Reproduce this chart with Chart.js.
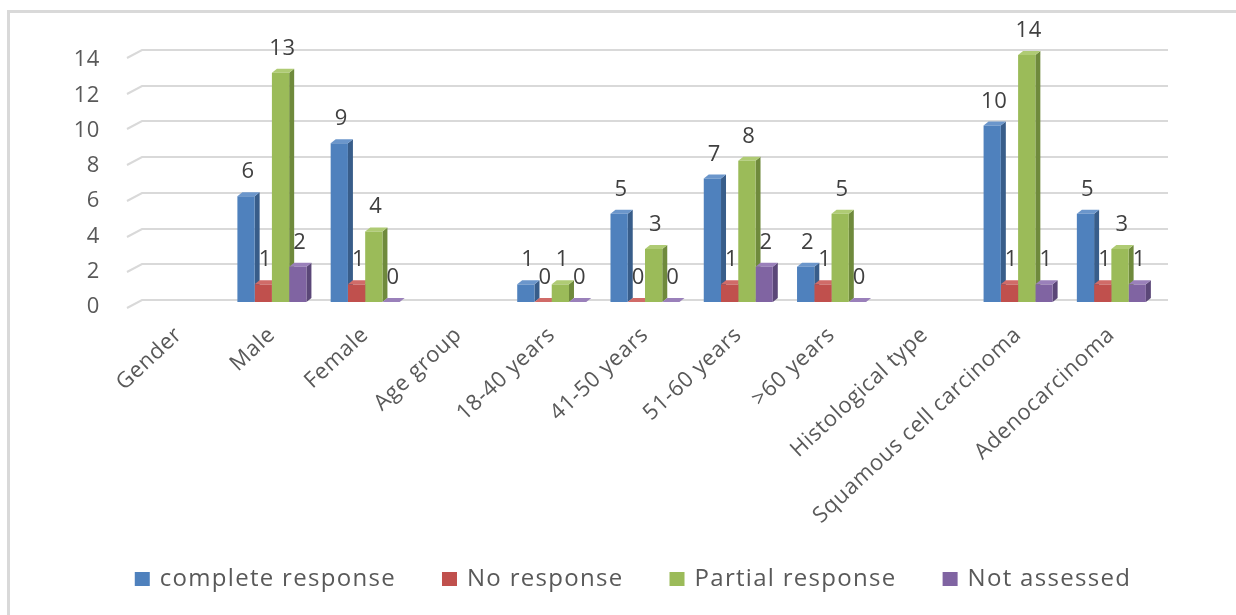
<!DOCTYPE html>
<html>
<head>
<meta charset="utf-8">
<script src="https://cdn.jsdelivr.net/npm/chart.js@4/dist/chart.umd.min.js"></script>
<style>
  html, body { margin: 0; padding: 0; background: #ffffff; }
  #wrap { position: relative; width: 1236px; height: 615px; overflow: hidden; }
  #frame { position: absolute; left: 7px; top: 10px; width: 1300px; height: 700px;
           border-left: 3px solid #d9d9d9; border-top: 3px solid #d9d9d9; box-sizing: border-box; }
  canvas { position: absolute; left: 0; top: 0; }
</style>
</head>
<body>
<div id="wrap">
  <div id="frame"></div>
  <canvas id="chart" width="1236" height="615"></canvas>
</div>
<script>
// Treatment response by patient group
const categories = ['Gender', 'Male', 'Female', 'Age group', '18-40 years', '41-50 years',
  '51-60 years', '>60 years', 'Histological type', 'Squamous cell carcinoma', 'Adenocarcinoma'];
const completeResponse = [null, 6, 9, null, 1, 5, 7, 2, null, 10, 5];
const noResponse       = [null, 1, 1, null, 0, 0, 1, 1, null, 1, 1];
const partialResponse  = [null, 13, 4, null, 1, 3, 8, 5, null, 14, 3];
const notAssessed      = [null, 2, 0, null, 0, 0, 2, 0, null, 1, 1];
const seriesNames = ['complete response', 'No response', 'Partial response', 'Not assessed'];
const yTickValues = [0, 2, 4, 6, 8, 10, 12, 14];

// front / side / top shades for each series
const shades = [
  { front: '#4F81BD', side: '#385D8A', top: '#6B96CB' },
  { front: '#C0504D', side: '#8C3836', top: '#D06B68' },
  { front: '#9BBB59', side: '#6F8A3C', top: '#AFCB74' },
  { front: '#8064A2', side: '#5B4778', top: '#9A80BA' }
];
const DEPTH_X = 5, DEPTH_Y = 4;
const TEXT = '#595959';
const FONT = '"Open Sans", "Noto Sans", sans-serif';

// back wall sits slightly further away: pull its lines toward a vanishing point
const VANISH_Y = 466, BACK_SCALE = 1.012;
const backY = frontY => VANISH_Y + (frontY - VANISH_Y) * BACK_SCALE;

const spacingPlugin = {
  id: 'spacing',
  beforeUpdate(chart) { chart.ctx.letterSpacing = '0.6px'; },
  beforeDraw(chart) { chart.ctx.letterSpacing = '0.6px'; }
};

// back grid with a short perspective stub, plus side and top faces of the bars
const depthPlugin = {
  id: 'depth',
  beforeDatasetsDraw(chart) {
    const ctx = chart.ctx, area = chart.chartArea, ys = chart.scales.y;
    ctx.save();
    ctx.strokeStyle = '#d9d9d9';
    ctx.lineWidth = 2;
    ys.ticks.forEach(t => {
      const y = Math.round(backY(ys.getPixelForValue(t.value)));
      ctx.beginPath();
      ctx.moveTo(area.left - 5, y + 8);
      ctx.lineTo(area.left + 10, y);
      ctx.lineTo(area.right + 10, y);
      ctx.stroke();
    });
    const sets = chart.data.datasets;
    for (let i = 0; i < chart.data.labels.length; i++) {
      for (let d = 0; d < sets.length; d++) {
        if (sets[d].data[i] == null) continue;
        const el = chart.getDatasetMeta(d).data[i];
        const p = el.getProps(['x', 'y', 'base', 'width'], true);
        const l = p.x - p.width / 2, r = p.x + p.width / 2;
        ctx.fillStyle = shades[d].side;
        ctx.beginPath();
        ctx.moveTo(r, p.y); ctx.lineTo(r + DEPTH_X, p.y - DEPTH_Y);
        ctx.lineTo(r + DEPTH_X, p.base - DEPTH_Y); ctx.lineTo(r, p.base);
        ctx.closePath(); ctx.fill();
        ctx.fillStyle = shades[d].top;
        ctx.beginPath();
        ctx.moveTo(l, p.y); ctx.lineTo(l + DEPTH_X, p.y - DEPTH_Y);
        ctx.lineTo(r + DEPTH_X, p.y - DEPTH_Y); ctx.lineTo(r, p.y);
        ctx.closePath(); ctx.fill();
      }
    }
    ctx.restore();
  },
  afterDatasetsDraw(chart) {
    const ctx = chart.ctx;
    ctx.save();
    ctx.fillStyle = '#404040';
    ctx.font = '22px ' + FONT;
    ctx.textAlign = 'center';
    ctx.textBaseline = 'alphabetic';
    chart.data.datasets.forEach((ds, d) => {
      chart.getDatasetMeta(d).data.forEach((el, i) => {
        const v = ds.data[i];
        if (v == null) return;
        const p = el.getProps(['x', 'y'], true);
        ctx.fillText(String(v), p.x + 2, p.y - 18);
      });
    });
    ctx.restore();
  },
  afterDraw(chart) {
    // legend row under the axis
    const ctx = chart.ctx;
    ctx.save();
    ctx.font = '24px ' + FONT;
    ctx.letterSpacing = '1.3px';
    ctx.textBaseline = 'middle';
    const box = 15, gapBox = 10, gapItem = 46;
    const widths = seriesNames.map(s => box + gapBox + ctx.measureText(s).width);
    const total = widths.reduce((a, b) => a + b, 0) + gapItem * (widths.length - 1);
    let x = 633 - total / 2;
    const y = 579;
    seriesNames.forEach((s, k) => {
      ctx.fillStyle = shades[k].front;
      ctx.fillRect(x, y - 7, box, 14);
      ctx.fillStyle = TEXT;
      ctx.fillText(s, x + box + gapBox, y);
      x += widths[k] + gapItem;
    });
    ctx.restore();
  }
};

const seriesValues = [completeResponse, noResponse, partialResponse, notAssessed];

new Chart(document.getElementById('chart'), {
  type: 'bar',
  data: {
    labels: categories,
    datasets: seriesValues.map((vals, k) => ({
      label: seriesNames[k],
      data: vals,
      backgroundColor: shades[k].front,
      borderWidth: 0,
      categoryPercentage: 0.74,
      barPercentage: 1.0
    }))
  },
  options: {
    responsive: false,
    animation: false,
    layout: { padding: { top: 55, right: 78, bottom: 0, left: 0 } },
    plugins: { legend: { display: false }, tooltip: { enabled: false } },
    scales: {
      x: {
        grid: { display: false, drawTicks: false },
        border: { display: false },
        ticks: {
          autoSkip: false, minRotation: 43, maxRotation: 43, padding: 20,
          color: TEXT, font: { family: FONT, size: 22 }
        },
        afterFit(scale) { scale.height = 313; }
      },
      y: {
        min: 0, max: 14,
        grid: { display: false, drawTicks: false },
        border: { display: false },
        afterBuildTicks(scale) { scale.ticks = yTickValues.map(v => ({ value: v })); },
        ticks: {
          padding: 32, labelOffset: 5,
          color: TEXT, font: { family: FONT, size: 22 }
        },
        afterFit(scale) { scale.width = 132; }
      }
    }
  },
  plugins: [spacingPlugin, depthPlugin]
});
</script>
</body>
</html>
